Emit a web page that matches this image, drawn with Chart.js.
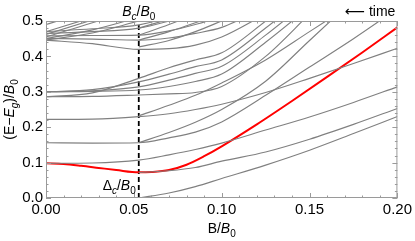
<!DOCTYPE html>
<html lang="en">
<head>
<meta charset="UTF-8">
<title>Spectrum vs B</title>
<script src="https://cdn.jsdelivr.net/npm/chart.js"></script>
<style>
  html, body { margin: 0; padding: 0; background: #fff; }
  #wrap { width: 415px; height: 241px; }
</style>
</head>
<body>
<div id="wrap"><canvas id="spectrum" width="415" height="241"></canvas></div>
<script>
  // field values (B/B0) where every gray level is sampled
  const bGrid = [0, 0.0264, 0.0528, 0.07, 0.085, 0.1, 0.125, 0.15, 0.175, 0.2];
  const bCritical = 0.0528;

  // lowest levels (some only appear above Bc)
  const lowLevels = [
    [null, null, 0.000, 0.014, 0.032, 0.055, 0.093, 0.135, 0.182, 0.230],
    [null, null, 0.072, 0.077, 0.086, 0.104, 0.130, 0.166, 0.208, 0.253],
    [0.098, 0.099, 0.107, 0.122, 0.137, 0.155, 0.192, 0.229, 0.270, 0.314],
    [0.156, 0.155, 0.156, 0.170, 0.186, 0.215, 0.290, 0.370, 0.450, 0.535],
    [null, null, 0.156, 0.185, 0.214, 0.250, 0.330, 0.445, 0.560],
    [0.222, 0.223, 0.230, 0.238, 0.250, 0.265, 0.298, 0.338, 0.380, 0.423],
    [null, null, 0.232, 0.262, 0.290, 0.325, 0.390, 0.470, 0.550]
  ];

  // the band around 0.3
  const midLevels = [
    [0.286, 0.287, 0.291, 0.294, 0.298, 0.315, 0.400, 0.520],
    [0.300, 0.301, 0.305, 0.315, 0.329, 0.350, 0.440, 0.540],
    [0.300, 0.303, 0.314, 0.333, 0.352, 0.372, 0.460, 0.560],
    [0.300, 0.306, 0.328, 0.350, 0.371, 0.390, 0.480, 0.580],
    [0.286, 0.297, 0.338, 0.368, 0.390, 0.410, 0.500, 0.600]
  ];

  // the band around 0.45 and above
  const highLevels = [
    [0.446, 0.436, 0.420, 0.422, 0.432, 0.455, 0.520],
    [0.451, 0.449, 0.446, 0.452, 0.465, 0.482, 0.540],
    [0.458, 0.459, 0.460, 0.472, 0.490, 0.512],
    [0.465, 0.470, 0.480, 0.500, 0.522],
    [0.470, 0.478, 0.489, 0.510],
    [null, null, 0.427, 0.445, 0.470, 0.500, 0.550],
    [null, null, 0.446, 0.470, 0.495, 0.520],
    [null, null, 0.460, 0.490, 0.520],
    [null, null, 0.480, 0.505],
    [0.490, 0.530],
    [0.470, 0.510],
    [0.462, 0.503],
    [0.455, 0.495, 0.540],
    [0.450, 0.475, 0.510],
    [0.446, 0.466, 0.500]
  ];

  // highlighted level
  const redB = [0, 0.01, 0.02, 0.03, 0.04, 0.0528, 0.06, 0.07, 0.08, 0.09, 0.1, 0.12, 0.14, 0.16, 0.18, 0.2];
  const redE = [0.098, 0.096, 0.091, 0.085, 0.079, 0.0725, 0.0735, 0.079, 0.094, 0.118, 0.146, 0.208, 0.274, 0.342, 0.411, 0.482];

  const FAMILY = '"Liberation Sans", Arial, "DejaVu Sans", sans-serif';

  function toPoints(levels) {
    const pts = [];
    levels.forEach((e, i) => { if (e !== null && e !== undefined) pts.push({ x: bGrid[i], y: e }); });
    return pts;
  }

  const datasets = [];
  [...lowLevels, ...midLevels, ...highLevels].forEach(lv => {
    datasets.push({
      data: toPoints(lv),
      borderColor: '#808080',
      borderWidth: 1.15,
      cubicInterpolationMode: 'monotone'
    });
  });
  datasets.push({
    data: redB.map((b, i) => ({ x: b, y: redE[i] })),
    borderColor: '#ff0000',
    borderWidth: 2,
    cubicInterpolationMode: 'monotone'
  });
  datasets.push({
    data: [{ x: bCritical, y: 0 }, { x: bCritical, y: 0.5 }],
    borderColor: '#000',
    borderWidth: 1.8,
    borderDash: [5, 3],
    tension: 0
  });

  function drawRich(ctx, parts, x, y, align, size) {
    const font = p => (p[1].includes('i') ? 'italic ' : '') + (p[1].includes('s') ? Math.round(size * 0.72) : size) + 'px ' + FAMILY;
    let w = 0;
    parts.forEach(p => { ctx.font = font(p); w += ctx.measureText(p[0]).width; });
    let cx = align === 'center' ? x - w / 2 : align === 'right' ? x - w : x;
    ctx.textAlign = 'left';
    ctx.textBaseline = 'alphabetic';
    parts.forEach(p => {
      ctx.font = font(p);
      ctx.fillText(p[0], cx, y + (p[1].includes('s') ? size * 0.25 : 0));
      cx += ctx.measureText(p[0]).width;
    });
  }

  // frame with inward ticks on all four sides, then the text labels
  const framePlugin = {
    id: 'frame',
    afterDatasetsDraw(chart) {
      const { ctx, chartArea: a, scales: { x, y } } = chart;
      ctx.save();
      ctx.strokeStyle = '#9a9a9a';
      ctx.lineWidth = 1;
      ctx.strokeRect(a.left + 0.5, a.top + 0.5, a.right - a.left - 1, a.bottom - a.top - 1);
      ctx.beginPath();
      for (let i = 0; i <= 20; i++) {
        const v = i * 0.01;
        const len = i % 5 === 0 ? 5 : 2.5;
        const px = Math.round(x.getPixelForValue(v)) + 0.5;
        ctx.moveTo(px, a.bottom); ctx.lineTo(px, a.bottom - len);
        ctx.moveTo(px, a.top); ctx.lineTo(px, a.top + len);
      }
      for (let i = 0; i <= 25; i++) {
        const v = i * 0.02;
        const len = i % 5 === 0 ? 5 : 2.5;
        const py = Math.round(y.getPixelForValue(v)) + 0.5;
        ctx.moveTo(a.left, py); ctx.lineTo(a.left + len, py);
        ctx.moveTo(a.right, py); ctx.lineTo(a.right - len, py);
      }
      ctx.stroke();
      ctx.restore();
    },
    afterDraw(chart) {
      const { ctx, chartArea: a, scales: { x } } = chart;
      const bx = x.getPixelForValue(bCritical);
      ctx.save();
      ctx.fillStyle = '#000';
      drawRich(ctx, [['B', 'i'], ['c', 'is'], ['/', ''], ['B', 'i'], ['0', 's']], bx, 16, 'center', 14);
      drawRich(ctx, [['Δ', ''], ['c', 'is'], ['/', ''], ['B', 'i'], ['0', 's']], bx - 3, 190, 'right', 14);
      drawRich(ctx, [['⟵ time', '']], a.right - 2, 16, 'right', 14);
      drawRich(ctx, [['B/', ''], ['B', 'i'], ['0', 's']], (a.left + a.right) / 2, 233, 'center', 14);
      ctx.translate(14, (a.top + a.bottom) / 2);
      ctx.rotate(-Math.PI / 2);
      drawRich(ctx, [['(E−', ''], ['E', 'i'], ['g', 'is'], [')/', ''], ['B', 'i'], ['0', 's']], 0, 0, 'center', 14);
      ctx.restore();
    }
  };

  new Chart(document.getElementById('spectrum'), {
    type: 'line',
    data: { datasets },
    plugins: [framePlugin],
    options: {
      responsive: false,
      animation: false,
      events: [],
      layout: { padding: { left: 0, right: 14, top: 21, bottom: 0 } },
      elements: { point: { radius: 0 } },
      plugins: { legend: { display: false }, tooltip: { enabled: false } },
      scales: {
        x: {
          type: 'linear', min: 0, max: 0.2,
          grid: { display: false, drawTicks: false },
          border: { display: false },
          ticks: { stepSize: 0.05, padding: 3, maxRotation: 0, color: '#000',
                   font: { family: FAMILY, size: 15 }, callback: v => v.toFixed(2) },
          afterFit: s => { s.height = 43; }
        },
        y: {
          type: 'linear', min: 0, max: 0.5,
          grid: { display: false, drawTicks: false },
          border: { display: false },
          ticks: { stepSize: 0.1, padding: 3, color: '#000',
                   font: { family: FAMILY, size: 15 }, callback: v => v.toFixed(1) },
          afterFit: s => { s.width = 46; }
        }
      }
    }
  });
</script>
</body>
</html>
